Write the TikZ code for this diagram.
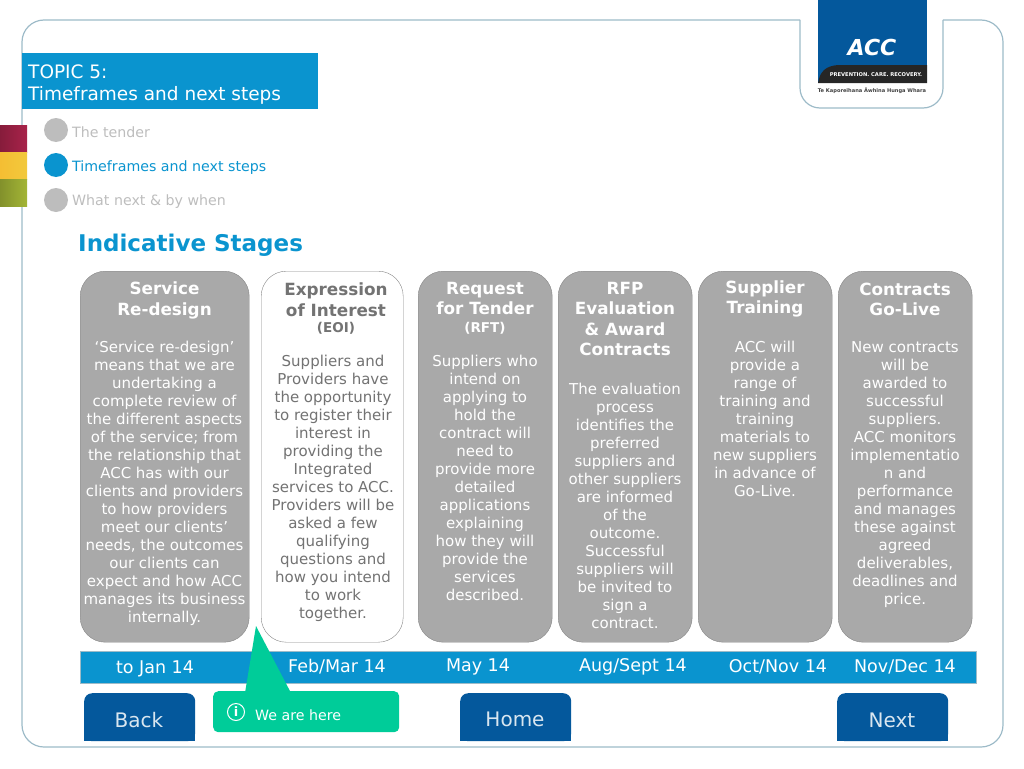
\documentclass[tikz,border=0pt]{standalone}
\usepackage{fontspec}
\usepackage{xcolor}
\setmainfont{DejaVu Sans}
\definecolor{accblue}{HTML}{0A94CF}
\definecolor{accnavy}{HTML}{04589C}
\definecolor{accgreen}{HTML}{00CC99}
\definecolor{stagegrey}{HTML}{A9A9A9}
\definecolor{stagetext}{HTML}{737373}
\definecolor{mutedtext}{HTML}{BDBDBD}
\definecolor{framecol}{HTML}{9DBBC8}
\begin{document}
\begin{tikzpicture}[
    x=1pt, y=-1pt,
    every node/.style={inner sep=0pt, align=center},
    stagebox/.style={draw=gray!95, rounded corners=25pt, minimum height=371pt, anchor=north west},
    greybox/.style={stagebox, fill=stagegrey},
    whitebox/.style={stagebox, fill=white},
    stagetitle/.style={font=\fontsize{16.8}{20.5}\selectfont\bfseries},
    stagesub/.style={font=\fontsize{13.5}{16}\selectfont\bfseries},
    stagebody/.style={font=\fontsize{15}{18}\selectfont},
    datelabel/.style={text=white, font=\fontsize{17.5}{20}\selectfont},
    navbutton/.style={fill=accnavy, text=white, minimum width=111pt, minimum height=48pt,
        anchor=north west, rounded corners=8pt},
    navlabel/.style={text=white!85!accnavy, font=\fontsize{20}{24}\selectfont},
    menudot/.style={circle, minimum size=24pt},
    menutext/.style={anchor=west, font=\fontsize{14.2}{17}\selectfont}
]
\useasboundingbox (0,0) rectangle (1024,768);

% outer frame with the notch for the logo
\draw[framecol, line width=1.2pt, rounded corners=22pt]
    (800,20) -- (22,20) -- (22,747) -- (1003,747) -- (1003,20) -- (943,20);
\draw[framecol, line width=1.2pt, rounded corners=20pt]
    (800,20) -- (800,108) -- (943,108) -- (943,20);

% logo
\fill[accnavy] (818,0) rectangle (927,83);
\fill[black!85] (818,83) .. controls (820,71) and (826,66) .. (838,65) -- (927,65) -- (927,83) -- cycle;
\node (acc) at (872,47) {\textcolor{white}{\fontsize{22}{22}\selectfont\bfseries\itshape ACC}};
\node (motto) at (876,75) {\textcolor{white}{\fontsize{5.2}{6}\selectfont\bfseries PREVENTION. CARE. RECOVERY.}};
\node (maori) at (872,91) {\textcolor{black!75}{\fontsize{5.1}{6}\selectfont\bfseries Te Kaporeihana Āwhina Hunga Whara}};

% colour stripes on the left
\definecolor{stripered}{HTML}{A8234A}
\definecolor{stripeyellow}{HTML}{F2C93C}
\definecolor{stripegreen}{HTML}{A3B536}
\shade[left color=stripered!80!black, right color=stripered] (0,125) rectangle (27,152);
\shade[left color=stripeyellow!85!orange, right color=stripeyellow] (0,152) rectangle (27,179);
\shade[left color=stripegreen!80!black, right color=stripegreen] (0,179) rectangle (27,206);

% topic bar
\fill[accblue] (22,53) rectangle (318,109);
\node[anchor=west, align=left, text=white, font=\fontsize{18.5}{22}\selectfont] (topic) at (28,85)
    {TOPIC 5:\\Timeframes and next steps};

% menu
\node[menudot, fill=mutedtext] (dota) at (56,130) {};
\node[menudot, fill=accblue] (dotb) at (56,165) {};
\node[menudot, fill=mutedtext] (dotc) at (56,200) {};
\node[menutext, text=mutedtext] (tender) at (72,132) {The tender};
\node[menutext, text=accblue] (frames) at (72,168) {Timeframes and next steps};
\node[menutext, text=mutedtext] (whatnext) at (72,202) {What next \& by when};

\node[anchor=west, text=accblue, font=\fontsize{23}{28}\selectfont\bfseries] (heading) at (78,245) {Indicative Stages};

% stages
\node[greybox, minimum width=169pt] (service) at (80,271) {};
\node[whitebox, minimum width=142pt] (eoi) at (261,271) {};
\node[greybox, minimum width=134pt] (rft) at (418,271) {};
\node[greybox, minimum width=134pt] (rfp) at (558,271) {};
\node[greybox, minimum width=134pt] (training) at (698,271) {};
\node[greybox, minimum width=134pt] (golive) at (838,271) {};

% stage titles
\node[stagetitle, text=white] (servicet) at (164.5,300.5) {Service\\Re-design};
\node[stagetitle, text=stagetext] (eoit) at (336,299.5) {Expression\\of Interest};
\node[stagesub, text=stagetext] (eois) at (336,328) {(EOI)};
\node[stagetitle, text=white] (rftt) at (485,298.5) {Request\\for Tender};
\node[stagesub, text=white] (rfts) at (485,328) {(RFT)};
\node[stagetitle, text=white] (rfpt) at (625,319) {RFP\\Evaluation\\\& Award\\Contracts};
\node[stagetitle, text=white] (trainingt) at (765,299) {Supplier\\Training};
\node[stagetitle, text=white] (golivet) at (905,299.5) {Contracts\\Go-Live};

% stage texts
\node[stagebody, text=white] (serviceb) at (164.5,483) {‘Service re-design’\\means that we are\\undertaking a\\complete review of\\the different aspects\\of the service; from\\the relationship that\\ACC has with our\\clients and providers\\to how providers\\meet our clients’\\needs, the outcomes\\our clients can\\expect and how ACC\\manages its business\\internally.};
\node[stagebody, text=stagetext] (eoib) at (333,488.5) {Suppliers and\\Providers have\\the opportunity\\to register their\\interest in\\providing the\\Integrated\\services to ACC.\\Providers will be\\asked a few\\qualifying\\questions and\\how you intend\\to work\\together.};
\node[stagebody, text=white] (rftb) at (485,478) {Suppliers who\\intend on\\applying to\\hold the\\contract will\\need to\\provide more\\detailed\\applications\\explaining\\how they will\\provide the\\services\\described.};
\node[stagebody, text=white] (rfpb) at (625,506) {The evaluation\\process\\identifies the\\preferred\\suppliers and\\other suppliers\\are informed\\of the\\outcome.\\Successful\\suppliers will\\be invited to\\sign a\\contract.};
\node[stagebody, text=white] (trainingb) at (765,419) {ACC will\\provide a\\range of\\training and\\training\\materials to\\new suppliers\\in advance of\\Go-Live.};
\node[stagebody, text=white] (goliveb) at (905,475) {New contracts\\will be\\awarded to\\successful\\suppliers.\\ACC monitors\\implementatio\\n and\\performance\\and manages\\these against\\agreed\\deliverables,\\deadlines and\\price.};

% time line
\node[fill=accblue, draw=framecol, minimum width=896pt, minimum height=32pt, anchor=north west] (timeline) at (80,651) {};
\foreach \name/\xpos/\ypos/\txt in {jan/155/669/to Jan 14, feb/337/667/Feb\slash Mar 14, may/478/667/May 14,
    aug/633/667/Aug\slash Sept 14, oct/778/667/Oct\slash Nov 14, nov/905/667/Nov\slash Dec 14}
    \node[datelabel] (\name) at (\xpos,\ypos) {\txt};

% buttons
\node[navbutton] (back) at (84,693) {};
\node[navbutton] (home) at (460,693) {};
\node[navbutton] (next) at (837,693) {};
\fill[accnavy] (84,725) rectangle (195,741);
\fill[accnavy] (460,725) rectangle (571,741);
\fill[accnavy] (837,725) rectangle (948,741);
\node[navlabel] (backt) at (139,720) {Back};
\node[navlabel] (homet) at (515,719) {Home};
\node[navlabel] (nextt) at (892,720) {Next};

% we are here
\node[fill=accgreen, rounded corners=5pt, minimum width=186pt, minimum height=41pt, anchor=north west] (here) at (213,691) {};
\coordinate (tip) at (256,626);
\fill[accgreen] (tip) -- (245,693) -- (291,693) -- cycle;
\node[circle, draw=white, line width=1pt, minimum size=17pt, text=white, font=\fontsize{13}{13}\selectfont\bfseries] (info) at (236,712) {i};
\node[anchor=west, text=white, font=\fontsize{14.2}{16}\selectfont] (heret) at (255,715) {We are here};
\end{tikzpicture}
\end{document}
